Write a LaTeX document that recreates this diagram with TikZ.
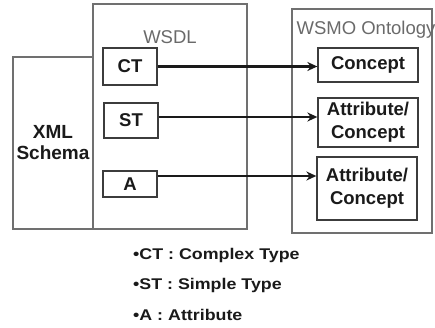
\documentclass[tikz,border=0pt]{standalone}
\usepackage{fontspec}
\setmainfont{Liberation Sans}
\newfontfamily\notefont[FakeStretch=1.15]{Liberation Sans}
\usetikzlibrary{arrows.meta,positioning,calc}
\definecolor{ink}{HTML}{1A1A1A}
\definecolor{frame}{HTML}{707070}
\definecolor{edge}{HTML}{3C3C3C}
\definecolor{muted}{HTML}{6A6A6A}
\tikzset{
  outer/.style={draw=frame, line width=1.3pt, inner sep=0pt, align=center, text=ink, font=\fontsize{19}{21}\selectfont\bfseries},
  item/.style={draw=edge, line width=1.3pt, inner sep=0pt, align=center, text=ink, font=\fontsize{18.5}{23}\selectfont\bfseries},
  title/.style={inner sep=0pt, text=muted, font=\fontsize{18.5}{20}\selectfont},
  note/.style={anchor=west, inner sep=0pt, text=ink, font=\notefont\fontsize{15.5}{17}\selectfont\bfseries},
  arr/.style={-{Stealth[length=10pt,width=9pt]}, line width=2.9pt, draw=ink},
}

\begin{document}
\begin{tikzpicture}[x=1pt,y=-1pt]
  \useasboundingbox (0,0) rectangle (435,328);
  % containers
  \node[outer, minimum width=80pt, minimum height=172pt] (xsd) at (53,143) {XML\\Schema};
  \node[outer, minimum width=154pt, minimum height=225pt] (wsdl) at (170,116.5) {};
  \node[outer, minimum width=140pt, minimum height=224pt] (wsmo) at (362,121) {};
  \node[title] (wsdltitle) at (170,37) {WSDL};
  \node[title] (wsmotitle) at (366,30) {WSMO Ontology};
  % wsdl types
  \node[item, minimum width=54pt, minimum height=37pt] (ct) at (130,66.5) {CT};
  \node[item, minimum width=54pt, minimum height=35pt] (st) at (131,120.5) {ST};
  \node[item, minimum width=54pt, minimum height=26pt] (a) at (130,184) {A};
  % ontology elements
  \node[item, minimum width=100pt, minimum height=34pt] (concept) at (368,65) {Concept};
  \node[item, minimum width=100pt, minimum height=49pt] (attr1) at (368,122.5) {Attribute/\\Concept};
  \node[item, minimum width=100pt, minimum height=63pt] (attr2) at (367,188.5) {Attribute/\\Concept};
  % mappings
  \draw[arr] (ct.east) -- (ct.east -| concept.west);
  \draw[arr] ([yshift=3.5pt]st.east) -- ([yshift=3.5pt]st.east -| attr1.west);
  \draw[arr] ([yshift=8pt]a.east) -- ([yshift=8pt]a.east -| attr2.west);
  % legend
  \node[note] (leg1) at (133,255) {•CT : Complex Type};
  \node[note] (leg2) at (133,285) {•ST : Simple Type};
  \node[note] (leg3) at (133,315) {•A : Attribute};
\end{tikzpicture}
\end{document}
